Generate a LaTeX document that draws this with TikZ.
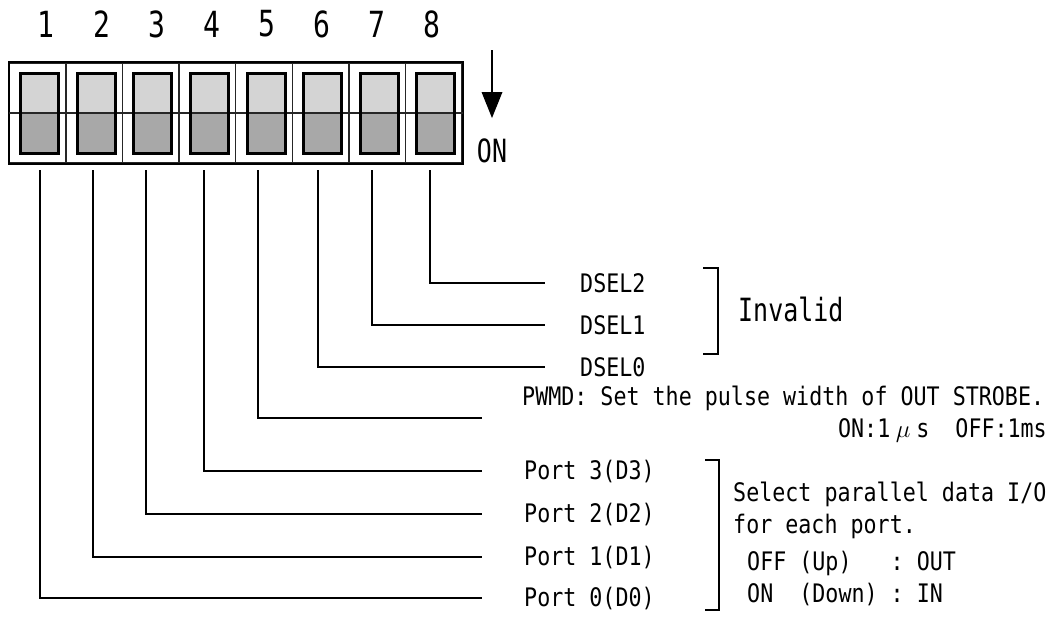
\documentclass[tikz,border=0pt]{standalone}
\usepackage{fontspec}
\newfontfamily\gothic[FakeStretch=0.85]{DejaVu Sans Mono}
\newfontfamily\gothicnarrow[FakeStretch=0.78]{DejaVu Sans Mono}
\usetikzlibrary{arrows.meta}

\definecolor{knobup}{HTML}{D4D4D4}
\definecolor{knobdown}{HTML}{A8A8A8}

\begin{document}
\begin{tikzpicture}[
    x=1pt, y=-1pt,
    cell/.style={draw=black!85, line width=1.4pt, minimum width=56.56pt, minimum height=100pt, inner sep=0pt},
    knob/.style={draw, line width=3pt, minimum width=38pt, minimum height=80pt, inner sep=0pt, fill=knobup,
        path picture={
          \fill[knobdown] (path picture bounding box.west) rectangle (path picture bounding box.south east);
          \draw[black!85, line width=1.4pt] (path picture bounding box.west) -- (path picture bounding box.east);
        }},
    num/.style={font=\gothicnarrow\fontsize{36}{36}\selectfont, inner sep=0pt},
    big/.style={font=\gothicnarrow\fontsize{32}{34}\selectfont, inner sep=0pt},
    lbl/.style={font=\gothic\fontsize{25.5}{30}\selectfont, anchor=west, inner sep=0pt},
    wire/.style={line width=2.2pt},
    bracket/.style={line width=2.2pt},
    onarrow/.style={line width=2.2pt},
    onhead/.style={fill=black}
  ]
    \useasboundingbox (0,0) rectangle (1053,630);

    % switch bank
    \foreach \i/\x/\nx in {1/37.8/46, 2/94.3/102, 3/150.9/157, 4/207.5/212,
                           5/264.0/267, 6/320.6/322, 7/377.2/377, 8/433.7/432} {
      \node[cell] (c\i) at (\x,113) {};
      \node[num] (n\i) at (\nx,24) {\i};
    }
    \draw[line width=2pt] (c1.north west) rectangle (c8.south east);
    \draw[black!85, line width=1.4pt] (c1.west) -- (c8.east);
    \foreach \i in {1,...,8} {
      \node[knob] (k\i) at ([xshift=2pt]c\i.center) {};
    }

    \coordinate (arrtop) at (492,50);
    \coordinate (arrneck) at (492,92);
    \coordinate (arrtip) at (492,118);
    \node[big] (on) at (492,151) {ON};
    \draw[onarrow] (arrtop) -- (arrneck);
    \fill[onhead] ([xshift=-10.5pt]arrneck) -- ([xshift=10.5pt]arrneck) -- (arrtip) -- cycle;

    % wire start and end points
    \coordinate (p1) at (40,170);
    \coordinate (p2) at (93,170);
    \coordinate (p3) at (146,170);
    \coordinate (p4) at (204,170);
    \coordinate (p5) at (258,170);
    \coordinate (p6) at (318,170);
    \coordinate (p7) at (372,170);
    \coordinate (p8) at (430,170);
    \coordinate (e1) at (482,598);
    \coordinate (e2) at (482,557);
    \coordinate (e3) at (482,514);
    \coordinate (e4) at (482,471);
    \coordinate (e5) at (482,418);
    \coordinate (e6) at (545,367);
    \coordinate (e7) at (545,325);
    \coordinate (e8) at (545,283);

    \draw[wire] (p1) |- (e1);
    \draw[wire] (p2) |- (e2);
    \draw[wire] (p3) |- (e3);
    \draw[wire] (p4) |- (e4);
    \draw[wire] (p5) |- (e5);
    \draw[wire] (p6) |- (e6);
    \draw[wire] (p7) |- (e7);
    \draw[wire] (p8) |- (e8);

    % labels
    \node[lbl] (dsel2) at (580,283) {DSEL2};
    \node[lbl] (dsel1) at (580,325) {DSEL1};
    \node[lbl] (dsel0) at (580,367) {DSEL0};
    \draw[bracket] (703,268) -- (718,268) -- (718,354) -- (703,354);
    \node[big, anchor=west] (invalid) at (738,309) {Invalid};

    \node[lbl] (pwmd) at (522,398) {PWMD: Set the pulse width of OUT STROBE.};
    \node[lbl, anchor=east] (pwmdval) at (1047,430) {ON:1\makebox[1.02em]{$\mu$}s~~OFF:1ms};

    \node[lbl] (port3) at (524,471) {Port 3(D3)};
    \node[lbl] (port2) at (524,514) {Port 2(D2)};
    \node[lbl] (port1) at (524,557) {Port 1(D1)};
    \node[lbl] (port0) at (524,598) {Port 0(D0)};
    \draw[bracket] (705,460) -- (719,460) -- (719,610) -- (705,610);

    \node[lbl] (sel1) at (733,494) {Select parallel data I/O};
    \node[lbl] (sel2) at (733,526) {for each port.};
    \node[lbl] (sel3) at (747,563) {OFF~(Up)~~~:~OUT};
    \node[lbl] (sel4) at (747,594) {ON~~(Down)~:~IN};
  \end{tikzpicture}
\end{document}
